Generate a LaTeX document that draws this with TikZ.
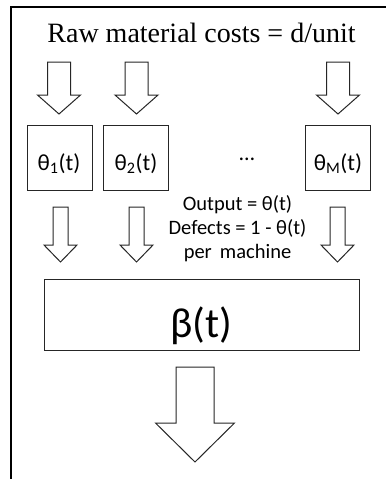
\documentclass[tikz,border=0pt]{standalone}
\usepackage{fontspec}
\setmainfont{Carlito}
\newfontfamily\serifont{Liberation Serif}
\newcommand{\blockarrow}[6]{%
  \draw[barrow] (#1-#5,#2) -- (#1+#5,#2) -- (#1+#5,#3) -- (#1+#6,#3) -- (#1,#4)
    -- (#1-#6,#3) -- (#1-#5,#3) -- cycle;}
\begin{document}
\begin{tikzpicture}[x=1pt,y=-1pt,
  frame/.style={line width=1.1pt},
  barrow/.style={draw=black!85,line width=1pt,fill=white,line join=miter},
  mbox/.style={draw=black!85,line width=1pt,minimum width=65pt,minimum height=65pt,inner sep=0pt},
  mlabel/.style={anchor=base,inner sep=0pt,font=\fontsize{23}{24}\selectfont},
  olabel/.style={anchor=base,inner sep=0pt,font=\fontsize{20.5}{24}\selectfont},
  bbox/.style={draw=black!85,line width=1pt,minimum width=315pt,minimum height=71pt,inner sep=0pt}]
\useasboundingbox (0,0) rectangle (386,479);
\coordinate (fa) at (11,479);
\coordinate (fb) at (11,7);
\coordinate (fc) at (386,7);
\draw[frame] (fa) -- (fb) -- (fc);
\node[font=\serifont\fontsize{28}{30}\selectfont,anchor=base] (title) at (201.5,42) {Raw material costs = d/unit};
\node[mbox] (m1) at (59.5,157.5) {};
\node[mbox] (m2) at (135.5,157.5) {};
\node[mbox] (mM) at (337.5,157.5) {};
\node[mlabel] (l1) at (59,170) {θ\textsubscript{1}(t)};
\node[mlabel] (l2) at (136,170) {θ\textsubscript{2}(t)};
\node[mlabel] (lM) at (338,170) {θ\textsubscript{M}(t)};
\node[font=\fontsize{22}{24}\selectfont,anchor=base] (dots) at (247,160) {…};
\node[bbox] (beta) at (201.5,314.5) {};
\node[anchor=base,inner sep=0pt,font=\fontsize{42}{48}\selectfont] (bl) at (201.5,337) {β(t)};
\node[olabel] (o1) at (237.5,210) {Output = θ(t)};
\node[olabel] (o2) at (237.5,234) {Defects = 1 - θ(t)};
\node[olabel] (o3) at (237.5,258) {per\, machine};
\blockarrow{59}{62}{95}{114}{11.5}{21.5}
\blockarrow{136.5}{62}{95}{114}{11.5}{21.5}
\blockarrow{338}{62}{95}{114}{11.5}{21.5}
\blockarrow{60.5}{207}{245}{262}{7.5}{16.5}
\blockarrow{136.5}{207}{245}{262}{7.5}{16.5}
\blockarrow{337.5}{207}{245}{262}{7.5}{16.5}
\blockarrow{195}{367}{423}{462}{19}{39.5}
\end{tikzpicture}
\end{document}
